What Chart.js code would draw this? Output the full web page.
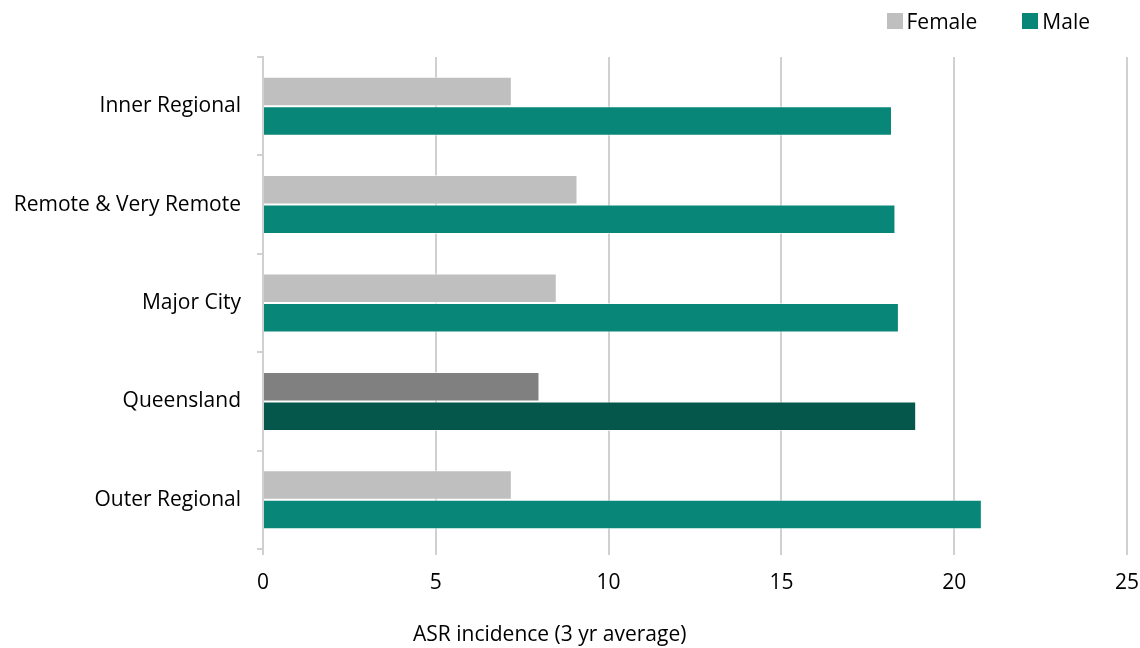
<!DOCTYPE html>
<html>
<head>
<meta charset="utf-8">
<script src="https://cdn.jsdelivr.net/npm/chart.js@4"></script>
<style>
  html, body { margin: 0; padding: 0; background: #ffffff; }
  #wrap { position: relative; width: 1140px; height: 648px; }
  #legend {
    position: absolute; top: 9px; right: 50px;
    display: flex; gap: 45px; margin: 0; padding: 0; list-style: none;
    font-family: "Open Sans", Lato, sans-serif; font-size: 21px; color: #000;
  }
  #legend li { display: flex; align-items: center; line-height: 24px; }
  #legend .box { width: 16px; height: 16px; margin-right: 4px; }
  #x-title {
    position: absolute; top: 621px; left: 413px;
    font-family: "Open Sans", Lato, sans-serif; font-size: 21px; line-height: 24px; color: #000;
  }
</style>
</head>
<body>
<div id="wrap">
  <ul id="legend"></ul>
  <canvas id="chart" width="1140" height="648"></canvas>
  <div id="x-title"></div>
</div>
<script>
// Chart data
const regions = ['Inner Regional', 'Remote & Very Remote', 'Major City', 'Queensland', 'Outer Regional'];
const femaleValues = [7.2, 9.1, 8.5, 8.0, 7.2];
const maleValues = [18.2, 18.3, 18.4, 18.9, 20.8];
const xTicks = [0, 5, 10, 15, 20, 25];
const axisTitle = 'ASR incidence (3 yr average)';

// Queensland total is shown in darker shades
const femaleColors = regions.map(r => r === 'Queensland' ? '#808080' : '#BFBFBF');
const maleColors = regions.map(r => r === 'Queensland' ? '#04574A' : '#088778');

const fontFamily = '"Open Sans", Lato, sans-serif';
const textFont = { family: fontFamily, size: 21 };

document.getElementById('x-title').textContent = axisTitle;

// HTML legend built from the chart's own legend items
const htmlLegend = {
  id: 'htmlLegend',
  afterUpdate(chart) {
    const list = document.getElementById('legend');
    list.innerHTML = '';
    const items = chart.options.plugins.legend.labels.generateLabels(chart);
    items.forEach(item => {
      const li = document.createElement('li');
      const box = document.createElement('span');
      box.className = 'box';
      box.style.background = item.fillStyle;
      li.appendChild(box);
      li.appendChild(document.createTextNode(item.text));
      list.appendChild(li);
    });
  }
};

new Chart(document.getElementById('chart').getContext('2d'), {
  type: 'bar',
  data: {
    labels: regions,
    datasets: [
      {
        label: 'Female',
        data: femaleValues,
        backgroundColor: femaleColors,
        borderColor: 'rgba(255,255,255,0.6)',
        borderWidth: 1,
        categoryPercentage: 0.6,
        barPercentage: 1.0
      },
      {
        label: 'Male',
        data: maleValues,
        backgroundColor: maleColors,
        borderColor: 'rgba(255,255,255,0.6)',
        borderWidth: 1,
        categoryPercentage: 0.6,
        barPercentage: 1.0
      }
    ]
  },
  plugins: [htmlLegend],
  options: {
    indexAxis: 'y',
    responsive: false,
    animation: false,
    layout: { padding: { left: 8, right: 1, top: 57, bottom: 53 } },
    plugins: {
      legend: { display: false },
      tooltip: { enabled: false }
    },
    scales: {
      x: {
        min: 0,
        max: 25,
        afterBuildTicks: (axis) => { axis.ticks = xTicks.map(v => ({ value: v })); },
        afterFit: (axis) => { axis.height = 46; axis.paddingRight = 13; },
        grid: {
          color: '#D0D0D0',
          lineWidth: 2,
          drawTicks: true,
          tickLength: 6
        },
        border: { display: false },
        ticks: {
          color: '#000000',
          font: textFont,
          padding: 15,
          maxRotation: 0
        }
      },
      y: {
        afterFit: (axis) => { axis.width = 255; },
        grid: {
          offset: true,
          drawOnChartArea: false,
          color: '#D0D0D0',
          lineWidth: 2,
          tickLength: 6
        },
        border: { display: true, color: '#D0D0D0', width: 2 },
        ticks: {
          color: '#000000',
          font: textFont,
          padding: 16
        }
      }
    }
  }
});
</script>
</body>
</html>
